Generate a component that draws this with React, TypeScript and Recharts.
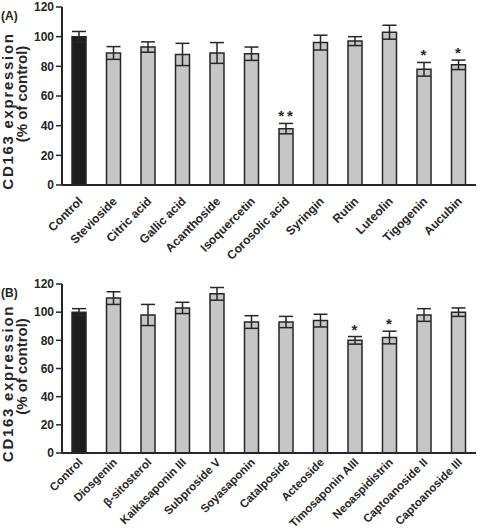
import React from 'react';
import { BarChart, Bar, XAxis, YAxis, ErrorBar, LabelList, Cell } from 'recharts';

const namesA = ['Control', 'Stevioside', 'Citric acid', 'Gallic acid', 'Acanthoside', 'Isoquercetin', 'Corosolic acid', 'Syringin', 'Rutin', 'Luteolin', 'Tigogenin', 'Aucubin'];
const valuesA = [100, 89, 93, 88, 89, 88.5, 38, 96, 97, 103, 78, 81];
const errorsA = [3.5, 4.3, 3.5, 7.5, 7, 4.5, 3.5, 5, 3, 4.7, 4.6, 3.2];
const sigA = ['', '', '', '', '', '', '**', '', '', '', '*', '*'];

const namesB = ['Control', 'Diosgenin', 'β-sitosterol', 'Kaikasaponin III', 'Subproside V', 'Soyasaponin', 'Catalposide', 'Acteoside', 'Timosaponin AIII', 'Neoaspidistrin', 'Captoanoside II', 'Captoanoside III'];
const valuesB = [100, 110, 98, 103, 113, 93, 93, 94, 80, 82, 98, 100];
const errorsB = [2.5, 4.5, 7.5, 4, 4.5, 4.5, 4, 4.5, 2.7, 4.5, 4.5, 3];
const sigB = ['', '', '', '', '', '', '', '', '*', '*', '', ''];

const yTicks = [0, 20, 40, 60, 80, 100, 120];
const boundaryTicks = [0, 1, 2, 3, 4, 5, 6, 7, 8, 9, 10, 11, 12];

const FONT = '"Liberation Sans", Arial, sans-serif';
const INK = '#262626';

interface PanelProps {
  tag: string;
  names: string[];
  values: number[];
  errors: number[];
  sig: string[];
  height: number;
  top: number;
  xAxisHeight: number;
  labelDy: number;
  labelSize: number;
}

const Panel = ({ tag, names, values, errors, sig, height, top, xAxisHeight, labelDy, labelSize }: PanelProps) => {
  const data = names.map((name, i) => ({ name, value: values[i], err: errors[i], sig: sig[i] }));

  // rotated category labels, anchored at their end
  const CatTick = ({ x, y, payload }: any) => (
    <g transform={`translate(${x + 4},${y + labelDy})`}>
      <text x={0} y={0} textAnchor="end" transform="rotate(-45)" fontFamily={FONT} fontWeight="bold" fontSize={labelSize} fill={INK}>
        {payload.value}
      </text>
    </g>
  );

  // significance marks sit just above the error bar
  const SigMark = (props: any) => {
    const { x, y, width, height: h, value, index } = props;
    if (!value) return null;
    const scale = h / values[index];
    const errTop = y - errors[index] * scale;
    return (
      <text x={x + width / 2 + 1} y={errTop - 2} textAnchor="middle" letterSpacing={3} fontFamily={FONT} fontWeight="bold" fontSize={15} fill={INK}>
        {value}
      </text>
    );
  };

  const YTitle = (props: any) => {
    const vb = props.viewBox || {};
    const cy = (vb.y || 0) + (vb.height || 0) / 2;
    const cy1 = cy + 15;
    const cy2 = cy - 2;
    return (
      <g fontFamily={FONT} fontWeight="bold" fill={INK}>
        <text x={1} y={top + 4} fontSize={12} dominantBaseline="hanging">{tag}</text>
        <text x={13} y={cy1} fontSize={15} letterSpacing={1.7} textAnchor="middle" transform={`rotate(-90, 13, ${cy1})`}>CD163 expression</text>
        <text x={27} y={cy2} fontSize={15} textAnchor="middle" transform={`rotate(-90, 27, ${cy2})`}>(% of control)</text>
      </g>
    );
  };

  return (
    <BarChart width={480} height={height} data={data} margin={{ top, right: 4, left: 0, bottom: 0 }} barSize={14}>
      <XAxis
        xAxisId="bounds"
        type="number"
        domain={[0, 12]}
        ticks={boundaryTicks}
        allowDataOverflow
        height={0}
        axisLine={false}
        tickSize={5}
        tickLine={{ stroke: INK, strokeWidth: 1.5 }}
        tickFormatter={() => ''}
      />
      <XAxis
        dataKey="name"
        interval={0}
        height={xAxisHeight}
        tickLine={false}
        tickSize={0}
        axisLine={{ stroke: INK, strokeWidth: 2 }}
        tick={<CatTick />}
      />
      <YAxis
        width={62}
        domain={[0, 120]}
        ticks={yTicks}
        interval={0}
        tickSize={6}
        tickMargin={2}
        axisLine={{ stroke: INK, strokeWidth: 2 }}
        tickLine={{ stroke: INK, strokeWidth: 1.5 }}
        tick={{ fontFamily: FONT, fontWeight: 'bold', fontSize: 12, fill: INK }}
        label={{ content: <YTitle /> }}
      />
      <Bar dataKey="value" fill="#c6c6c6" stroke={INK} strokeWidth={1.5} isAnimationActive={false}>
        {data.map((d, i) => (
          <Cell key={d.name} fill={i === 0 ? '#1e1e1e' : '#c6c6c6'} />
        ))}
        <ErrorBar dataKey="err" width={7} stroke={INK} strokeWidth={1.5} />
        <LabelList dataKey="sig" content={<SigMark />} />
      </Bar>
    </BarChart>
  );
};

export default function App() {
  return (
    <div style={{ position: 'absolute', left: 0, top: 0, width: 480, height: 532, background: '#fff' }}>
      <Panel tag="(A)" names={namesA} values={valuesA} errors={errorsA} sig={sigA} height={265} top={7} xAxisHeight={80} labelDy={15} labelSize={12} />
      <Panel tag="(B)" names={namesB} values={valuesB} errors={errorsB} sig={sigB} height={267} top={19} xAxisHeight={79} labelDy={8} labelSize={11.5} />
    </div>
  );
}
